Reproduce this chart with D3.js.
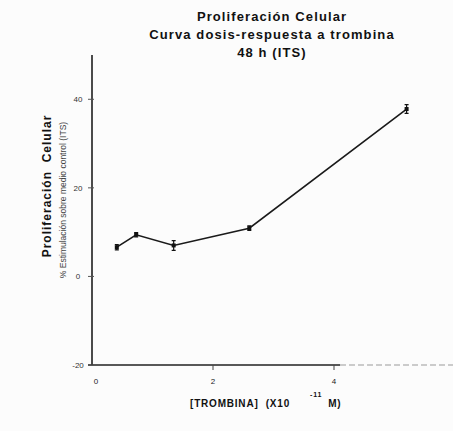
<!DOCTYPE html>
<html>
<head>
<meta charset="utf-8">
<script src="https://cdn.jsdelivr.net/npm/d3@7"></script>
<style>
  body { margin: 0; background: #fcfcfc; }
  text { font-family: "Liberation Sans", Arial, sans-serif; white-space: pre; }
</style>
</head>
<body>
<div id="chart-area"></div>
<script>
// dose-response data (thrombin, x10^-11 M)
let doses = [0.41, 0.73, 1.35, 2.6, 5.2]
let stimulation = [6.6, 9.4, 7.0, 10.9, 37.8]
let errors = [0.6, 0.5, 1.1, 0.5, 1.0]
let xTicks = [0, 2, 4]
let yTicks = [-20, 0, 20, 40]
let titleLines = ["Proliferación Celular", "Curva dosis-respuesta a trombina", "48 h (ITS)"]

let width = 453, height = 431

let svg = d3.select("#chart-area")
    .append("svg")
    .attr("width", width)
    .attr("height", height)

let x = d3.scaleLinear()
    .domain([0, 6])
    .range([92, 455])

let y = d3.scaleLinear()
    .domain([-20, 50])
    .range([365, 55])

// title
svg.selectAll("titleLines")
    .data(titleLines)
    .enter()
    .append("text")
    .attr("x", 272)
    .attr("y", (d, i) => 21 + i * 18)
    .attr("text-anchor", "middle")
    .style("font-size", "13px")
    .style("font-weight", "bold")
    .style("letter-spacing", "1.1px")
    .style("fill", "#111")
    .text(d => d)

// y axis line
svg.append("line")
    .attr("x1", x(0)).attr("x2", x(0))
    .attr("y1", y(50)).attr("y2", y(-20))
    .style("stroke", "#111")
    .style("stroke-width", 1.5)

// x axis: solid part, then faded dashes
svg.append("line")
    .attr("x1", x(0) - 4).attr("x2", x(4.1))
    .attr("y1", y(-20)).attr("y2", y(-20))
    .style("stroke", "#222")
    .style("stroke-width", 1.3)
svg.append("line")
    .attr("x1", x(4.1)).attr("x2", width)
    .attr("y1", y(-20)).attr("y2", y(-20))
    .style("stroke", "#999")
    .style("stroke-width", 1.2)
    .style("stroke-dasharray", "6,3")

// ticks
svg.selectAll("yTickMarks")
    .data(yTicks)
    .enter()
    .append("line")
    .attr("x1", x(0) - 4).attr("x2", x(0) + 2)
    .attr("y1", d => y(d)).attr("y2", d => y(d))
    .style("stroke", "#555")
svg.selectAll("yTickLabels")
    .data(yTicks)
    .enter()
    .append("text")
    .attr("x", 78)
    .attr("y", d => y(d) + 3)
    .attr("text-anchor", "middle")
    .style("font-size", "8px")
    .style("fill", "#333")
    .text(d => d < 0 ? "-" + Math.abs(d) : d)

svg.selectAll("xTickMarks")
    .data(xTicks.slice(1))
    .enter()
    .append("line")
    .attr("x1", d => x(d)).attr("x2", d => x(d))
    .attr("y1", y(-20)).attr("y2", y(-20) + 5)
    .style("stroke", "#444")
svg.selectAll("xTickLabels")
    .data(xTicks)
    .enter()
    .append("text")
    .attr("x", d => x(d) + (d === 0 ? 4 : 0))
    .attr("y", 384)
    .attr("text-anchor", "middle")
    .style("font-size", "8px")
    .style("fill", "#222")
    .text(d => d)

// axis titles
svg.append("text")
    .attr("transform", "translate(51,186) rotate(-90)")
    .attr("text-anchor", "middle")
    .style("font-size", "12px")
    .style("font-weight", "bold")
    .style("letter-spacing", "1px")
    .style("fill", "#111")
    .text("Proliferación  Celular")

svg.append("text")
    .attr("transform", "translate(66,200) rotate(-90)")
    .attr("text-anchor", "middle")
    .style("font-size", "8.5px")
    .style("fill", "#444")
    .text("% Estimulación sobre medio control (ITS)")

let xTitle = svg.append("text")
    .attr("x", 190)
    .attr("y", 407)
    .style("font-size", "10px")
    .style("font-weight", "bold")
    .style("letter-spacing", "0.8px")
    .style("fill", "#111")
xTitle.append("tspan").text("[TROMBINA]  (X10")
xTitle.append("tspan").attr("dx", 20).attr("dy", -10).style("font-size", "7px").text("-11")
xTitle.append("tspan").attr("dx", 6).attr("dy", 10).text("M)")

// data line
let points = doses.map((d, i) => [d, stimulation[i], errors[i]])

svg.append("path")
    .datum(points)
    .attr("d", d3.line().x(d => x(d[0])).y(d => y(d[1])))
    .style("fill", "none")
    .style("stroke", "#1a1a1a")
    .style("stroke-width", 1.6)

// error bars
svg.selectAll("errBars")
    .data(points)
    .enter()
    .append("path")
    .attr("d", d => {
        let px = x(d[0]), top = y(d[1] + d[2]), bot = y(d[1] - d[2])
        return "M" + (px - 2) + "," + top + "H" + (px + 2) +
            "M" + px + "," + top + "V" + bot +
            "M" + (px - 2) + "," + bot + "H" + (px + 2)
    })
    .style("stroke", "#111")
    .style("stroke-width", 1.2)
    .style("fill", "none")

svg.selectAll("markers")
    .data(points)
    .enter()
    .append("rect")
    .attr("x", d => x(d[0]) - 2)
    .attr("y", d => y(d[1]) - 2)
    .attr("width", 4)
    .attr("height", 4)
    .style("fill", "#111")
</script>
</body>
</html>
